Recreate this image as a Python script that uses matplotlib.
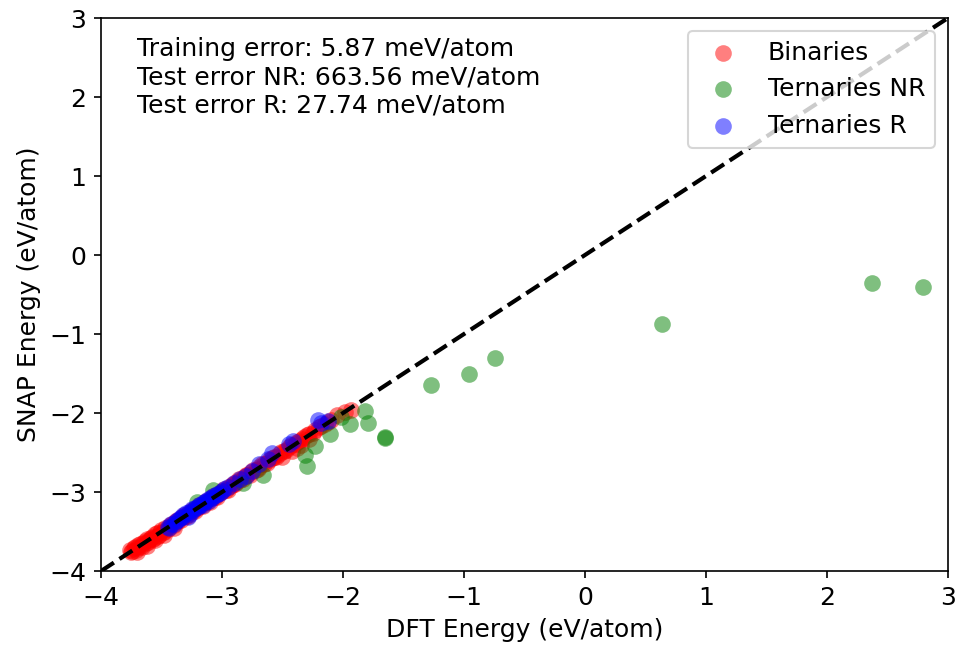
import numpy as np
from matplotlib import pyplot as plt

plt.rcParams['font.size'] = 12

# parity data: DFT energy vs SNAP energy (eV/atom)
bin_dft = [-3.76, -3.74, -3.72, -3.70, -3.69, -3.67, -3.65, -3.63, -3.62, -3.60,
           -3.58, -3.56, -3.55, -3.53, -3.51, -3.49, -3.47, -3.45, -3.43, -3.41,
           -3.39, -3.36, -3.33, -3.30, -3.27, -3.24, -3.21, -3.18, -3.15, -3.12,
           -3.09, -3.06, -3.03, -3.00, -2.97, -2.94, -2.91, -2.88, -2.85, -2.82,
           -2.79, -2.76, -2.72, -2.69, -2.65, -2.61, -2.57, -2.53, -2.49, -2.45,
           -2.40, -2.36, -2.32, -2.28, -2.25, -2.20, -2.15, -2.10, -1.93,
           -3.75, -3.73, -3.71, -3.68, -3.66, -3.64, -3.61, -3.59, -3.57, -3.54,
           -3.52, -3.50, -3.48, -3.44, -3.40, -3.37, -3.34, -3.31, -3.28, -3.25,
           -3.22, -3.19, -3.16, -3.13, -3.10, -3.07, -3.04, -3.01, -2.98, -2.95,
           -2.92, -2.89, -2.86, -2.83, -2.80, -2.77, -2.74, -2.70, -2.67, -2.63,
           -2.59, -2.55, -2.51, -2.47, -2.43, -2.38, -2.34, -2.30, -2.23, -2.18,
           -2.12, -2.05, -1.98,
           -3.70, -3.62, -3.55, -3.48, -3.40, -2.50, -2.42, -2.38, -2.35, -2.28]
bin_snap = [-3.73, -3.74, -3.70, -3.71, -3.67, -3.68, -3.64, -3.65, -3.60, -3.61,
            -3.57, -3.58, -3.53, -3.55, -3.50, -3.50, -3.46, -3.47, -3.42, -3.40,
            -3.38, -3.37, -3.32, -3.30, -3.26, -3.24, -3.20, -3.18, -3.14, -3.12,
            -3.08, -3.06, -3.02, -2.99, -2.97, -2.93, -2.90, -2.87, -2.85, -2.81,
            -2.79, -2.75, -2.72, -2.68, -2.64, -2.60, -2.56, -2.52, -2.48, -2.43,
            -2.39, -2.35, -2.30, -2.27, -2.25, -2.18, -2.14, -2.09, -1.96,
            -3.76, -3.71, -3.73, -3.66, -3.69, -3.62, -3.63, -3.58, -3.60, -3.52,
            -3.54, -3.48, -3.51, -3.44, -3.42, -3.35, -3.36, -3.29, -3.30, -3.23,
            -3.24, -3.17, -3.18, -3.11, -3.12, -3.05, -3.06, -3.00, -2.96, -2.97,
            -2.91, -2.90, -2.84, -2.84, -2.78, -2.78, -2.72, -2.71, -2.65, -2.63,
            -2.57, -2.55, -2.49, -2.47, -2.41, -2.37, -2.33, -2.28, -2.21, -2.16,
            -2.11, -2.03, -1.99,
            -3.76, -3.68, -3.61, -3.54, -3.46, -2.55, -2.48, -2.44, -2.41, -2.33]

nr_dft = [2.37, 2.79, 0.64, -0.74, -0.96, -1.27, -1.65, -1.65, -1.82, -1.79,
          -1.94, -2.02, -2.11, -2.23, -2.31, -2.30, -2.66, -3.07, -2.83, -3.21]
nr_snap = [-0.35, -0.41, -0.87, -1.30, -1.50, -1.64, -2.30, -2.31, -1.97, -2.13,
           -2.14, -2.05, -2.26, -2.42, -2.53, -2.67, -2.78, -2.97, -2.89, -3.12]

r_dft = [-3.45, -3.40, -3.35, -3.30, -3.28, -3.25, -3.22, -3.18, -3.15, -3.12,
         -3.08, -3.05, -3.02, -2.95, -2.85, -2.80, -2.69, -2.59, -2.41, -2.21, -2.12,
         -3.44, -3.42, -3.38, -3.36, -3.33, -3.32, -3.27, -3.26, -3.24, -3.20,
         -3.19, -3.16, -3.14, -3.11, -3.10, -3.07, -3.04, -3.00, -2.98, -2.90,
         -2.75, -2.62, -2.45, -2.18]
r_snap = [-3.44, -3.40, -3.33, -3.26, -3.31, -3.22, -3.20, -3.17, -3.13, -3.10,
          -3.07, -3.04, -3.01, -2.94, -2.83, -2.80, -2.64, -2.50, -2.35, -2.09, -2.10,
          -3.46, -3.41, -3.37, -3.36, -3.32, -3.29, -3.25, -3.28, -3.23, -3.19,
          -3.16, -3.16, -3.12, -3.11, -3.08, -3.05, -3.03, -2.99, -2.96, -2.88,
          -2.73, -2.58, -2.39, -2.12]

train_err = 5.87
test_nr_err = 663.56
test_r_err = 27.74

lims = [-4, 3]

fig = plt.figure(figsize=(6.38, 4.307), dpi=150)
ax = fig.add_axes([0.1055, 0.116, 0.885, 0.856])

ax.scatter(bin_dft, bin_snap, s=64, color='red', alpha=0.5, lw=0, label='Binaries')
ax.scatter(nr_dft, nr_snap, s=64, color='green', alpha=0.5, lw=0, label='Ternaries NR')
ax.scatter(r_dft, r_snap, s=64, color='blue', alpha=0.5, lw=0, label='Ternaries R')
ax.plot(lims, lims, 'k--', lw=2)

ax.set_xlim(lims)
ax.set_ylim(lims)
ax.set_xlabel('DFT Energy (eV/atom)')
ax.set_ylabel('SNAP Energy (eV/atom)')

txt = (f"Training error: {train_err:.2f} meV/atom\n"
       f"Test error NR: {test_nr_err:.2f} meV/atom\n"
       f"Test error R: {test_r_err:.2f} meV/atom")
ax.text(0.043, 0.965, txt, transform=ax.transAxes, va='top', ha='left')

ax.legend(loc='upper right')

fig.savefig('out.png', dpi=150)
